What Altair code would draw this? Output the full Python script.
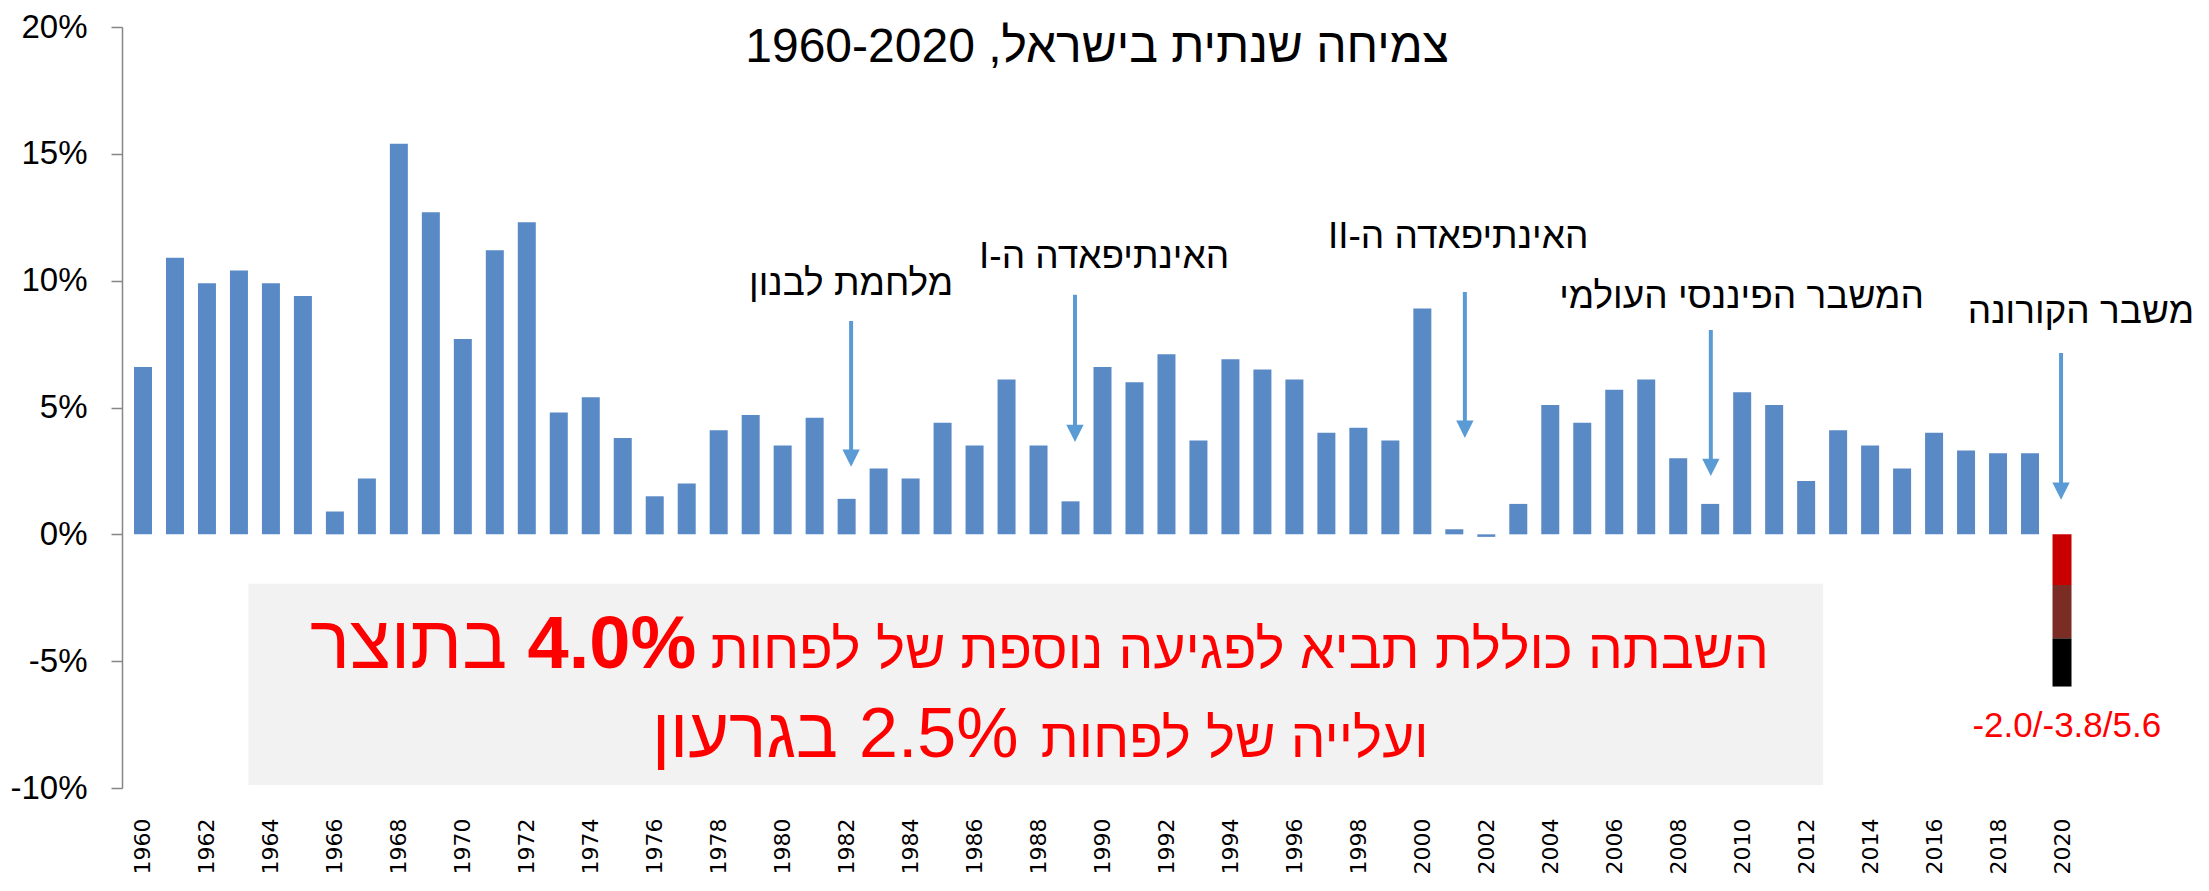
import altair as alt
import pandas as pd

# ---------------- data ----------------
years = list(range(1960, 2020))
growth = [6.6, 10.9, 9.9, 10.4, 9.9, 9.4, 0.9, 2.2, 15.4, 12.7,
          7.7, 11.2, 12.3, 4.8, 5.4, 3.8, 1.5, 2.0, 4.1, 4.7,
          3.5, 4.6, 1.4, 2.6, 2.2, 4.4, 3.5, 6.1, 3.5, 1.3,
          6.6, 6.0, 7.1, 3.7, 6.9, 6.5, 6.1, 4.0, 4.2, 3.7,
          8.9, 0.2, -0.1, 1.2, 5.1, 4.4, 5.7, 6.1, 3.0, 1.2,
          5.6, 5.1, 2.1, 4.1, 3.5, 2.6, 4.0, 3.3, 3.2, 3.2]

# 2020 scenarios (stacked segments)
scen_year = [2020, 2020, 2020]
scen_top = [0.0, -2.0, -4.1]
scen_bottom = [-2.0, -4.1, -6.0]
scen_name = ["a", "b", "c"]
scen_label = "-2.0/-3.8/5.6"

tick_years = list(range(1960, 2021, 2))
y_ticks = [-10, -5, 0, 5, 10, 15, 20]

title_text = "צמיחה שנתית בישראל, 1960-2020"

ann_text = ["מלחמת לבנון", "האינתיפאדה ה-I", "האינתיפאדה ה-II",
            "המשבר הפיננסי העולמי", "משבר הקורונה"]
ann_x = [1982.14, 1990.05, 2001.12, 2009.98, 2020.59]
ann_y = [9.44, 10.50, 11.29, 8.93, 8.33]
arrow_x = [1982.14, 1989.14, 2001.33, 2009.02, 2019.97]
arrow_top = [8.41, 9.44, 9.55, 8.06, 7.15]
arrow_tip = [2.66, 3.64, 3.80, 2.30, 1.36]

box_x = [1963.3]
box_x2 = [2012.53]
box_y = [-1.95]
box_y2 = [-9.88]

msg_a = "השבתה כוללת תביא לפגיעה נוספת של לפחות"
msg_b = "4.0%"
msg_c = "בתוצר"
msg_d = "ועלייה של לפחות"
msg_e = "2.5%"
msg_f = "בגרעון"
msg_x = [1994.29, 1974.66, 1968.3, 1994.13, 1984.88, 1978.82]
msg_y = [-5.27, -5.27, -5.27, -8.77, -8.77, -8.77]

RLE, PDF = "\u202B", "\u202C"
def rtl(s):
    return RLE + s + PDF

# ---------------- encodings ----------------
x_scale = alt.Scale(domain=[1959.5, 2020.5], nice=False, zero=False)
y_scale = alt.Scale(domain=[-10, 20], nice=False, zero=False)
x_axis = alt.Axis(values=tick_years, format="d", labelAngle=-90, domain=False,
                  ticks=False, grid=False, labelFont="DejaVu Sans",
                  labelFontSize=22, labelColor="black", labelPadding=30,
                  labelOverlap=False, labelFlush=False)
y_axis = alt.Axis(values=y_ticks, labelExpr="datum.value + '%'", grid=False,
                  domain=True, domainColor="#868686", domainWidth=1.5,
                  ticks=True, tickSize=11, tickColor="#868686", tickWidth=1.5,
                  labelFont="Liberation Sans", labelFontSize=33,
                  labelColor="black", labelPadding=24)

def X(f):
    return alt.X(f, type="quantitative", scale=x_scale, axis=x_axis, title=None)

def Y(f):
    return alt.Y(f, type="quantitative", scale=y_scale, axis=y_axis, title=None)

# ---------------- layers ----------------
box = alt.Chart(pd.DataFrame({"x": box_x, "x2": box_x2, "y": box_y, "y2": box_y2})).mark_rect(
    color="#F2F2F2").encode(x=X("x"), x2="x2:Q", y=Y("y"), y2="y2:Q")

bars = alt.Chart(pd.DataFrame({"x": years, "y": growth})).mark_bar(
    width=18, color="#5A8AC6", orient="vertical").encode(x=X("x"), y=Y("y"))

scen = alt.Chart(pd.DataFrame({"x": scen_year, "y": scen_top, "y2": scen_bottom,
                               "s": scen_name})).mark_bar(width=19).encode(
    x=X("x"), y=Y("y"), y2="y2:Q",
    color=alt.Color("s:N", scale=alt.Scale(domain=scen_name,
                    range=["#C80000", "#7B2C24", "#000000"]), legend=None))

arrows_df = pd.DataFrame({"x": arrow_x, "y": arrow_top, "y2": arrow_tip})
rules = alt.Chart(arrows_df).mark_rule(color="#5B9BD5", strokeWidth=4,
                                        y2Offset=-8).encode(
    x=X("x"), y=Y("y"), y2="y2:Q")
heads = alt.Chart(arrows_df).mark_point(shape="M-1,-1L1,-1L0,1Z", size=300,
                                         filled=True, color="#5B9BD5",
                                         opacity=1, strokeWidth=0,
                                         yOffset=-8.7).encode(
    x=X("x"), y=Y("y2"))

ann = alt.Chart(pd.DataFrame({"x": ann_x, "y": ann_y,
                              "t": [rtl(t) for t in ann_text]})).mark_text(
    font="Liberation Sans", fontSize=37, align="center", baseline="alphabetic",
    color="black").encode(x=X("x"), y=Y("y"), text="t:N")

def msg_layer(text, i, size, weight="normal"):
    return alt.Chart(pd.DataFrame({"x": [msg_x[i]], "y": [msg_y[i]],
                                   "t": [rtl(text)]})).mark_text(
        font="Liberation Sans", fontSize=size, fontWeight=weight,
        align="center", baseline="alphabetic", color="#FF0000").encode(
        x=X("x"), y=Y("y"), text="t:N")

msgs = [msg_layer(msg_a, 0, 55), msg_layer(msg_b, 1, 74, "bold"),
        msg_layer(msg_c, 2, 75), msg_layer(msg_d, 3, 55),
        msg_layer(msg_e, 4, 70), msg_layer(msg_f, 5, 70)]

title = alt.Chart(pd.DataFrame({"x": [1989.83], "y": [18.62],
                                "t": [rtl(title_text)]})).mark_text(
    font="Liberation Sans", fontSize=48, align="center", baseline="alphabetic",
    color="black").encode(x=X("x"), y=Y("y"), text="t:N")

red_label = alt.Chart(pd.DataFrame({"x": [2020.15], "y": [-8.0],
                                    "t": [scen_label]})).mark_text(
    font="Liberation Sans", fontSize=35, align="center", baseline="alphabetic",
    color="#FF0000").encode(x=X("x"), y=Y("y"), text="t:N")

chart = alt.layer(box, bars, scen, rules, heads, ann, *msgs, title, red_label).properties(
    width=1961, height=761,
    padding={"left": 114, "top": 19, "right": 118, "bottom": 88},
    autosize=alt.AutoSizeParams(type="none"),
    background="white",
).configure_view(stroke=None)

chart.save("out.html", embed_options={"renderer": "svg", "actions": False})
